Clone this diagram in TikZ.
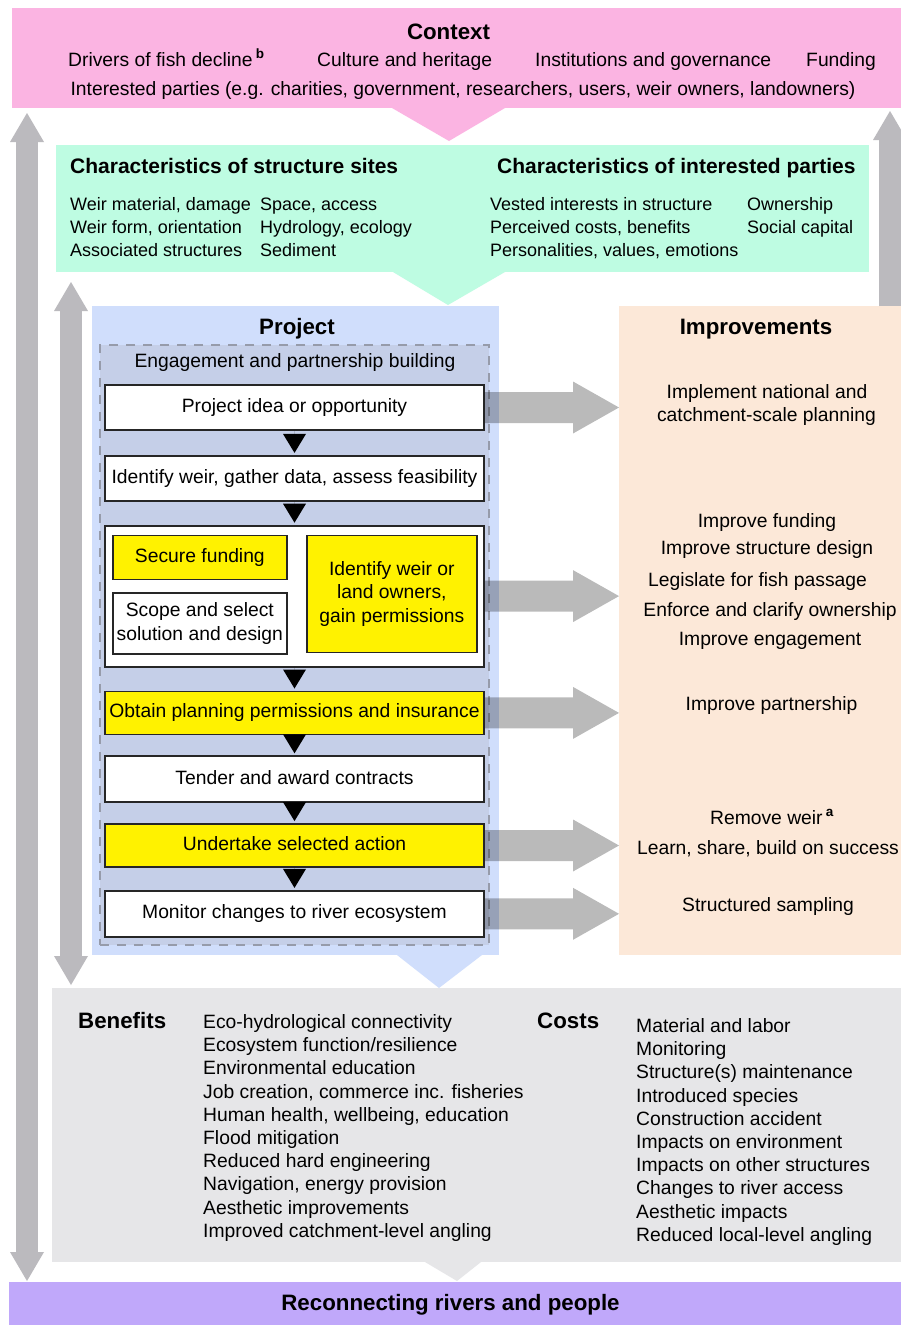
\documentclass[tikz,border=0pt]{standalone}
\usepackage{fontspec}
\setmainfont{Liberation Sans}
\usetikzlibrary{positioning,arrows.meta}

\definecolor{ctxpink}{RGB}{251,180,226}
\definecolor{charmint}{RGB}{190,252,226}
\definecolor{projblue}{RGB}{208,222,252}
\definecolor{engblue}{RGB}{197,207,232}
\definecolor{imppeach}{RGB}{252,232,216}
\definecolor{bcgray}{RGB}{230,230,232}
\definecolor{recpurple}{RGB}{192,168,250}
\definecolor{stepyellow}{RGB}{255,242,0}
\definecolor{arrowgray}{RGB}{187,186,190}
\definecolor{dashgray}{RGB}{150,155,170}

\newcommand{\bodyfont}{\fontsize{19.3}{23.3}\selectfont}
\newcommand{\listfont}{\fontsize{18}{22}\selectfont}
\newcommand{\headfont}{\fontsize{22.3}{26}\selectfont\bfseries}
\newcommand{\subheadfont}{\fontsize{21}{25}\selectfont\bfseries}

\begin{document}
\begin{tikzpicture}[x=1pt, y=-1pt,
    panel/.style={anchor=north west, inner sep=0pt, outer sep=0pt},
    head/.style={font=\headfont, text height=20pt, text depth=4pt, inner sep=0pt},
    subhead/.style={font=\subheadfont, text height=19pt, text depth=4pt, inner sep=0pt, anchor=west},
    txt/.style={font=\bodyfont, text height=18pt, text depth=4pt, inner sep=0pt},
    item/.style={font=\listfont, text height=17pt, text depth=4pt, inner sep=0pt, anchor=west},
    stepbox/.style={draw=black!85, line width=1.8pt, fill=white, minimum width=379pt, font=\bodyfont, text height=14pt, text depth=4pt, inner sep=2pt},
    yellowbox/.style={stepbox, fill=stepyellow},
    subbox/.style={draw=black!85, line width=1.5pt, fill=white, font=\bodyfont, align=center, inner sep=2pt, anchor=north west},
    steptip/.style={-{Triangle[width=23pt,length=19pt,line width=0pt]}, line width=.01pt, shorten >=2pt},
    bigtip/.tip={Triangle[width=34pt,length=29pt,line width=0pt]},
    bigarrow/.style={draw=arrowgray, line width=22pt},
    sidearrow/.style={draw=black, line width=31pt, -{Triangle[width=52pt,length=46pt,line width=0pt]}}
  ]
  \useasboundingbox (0,0) rectangle (901,1325);
  \fill[white] (0,0) rectangle (901,1325);

  % Panels
  \node[panel, fill=ctxpink, minimum width=889pt, minimum height=100pt] (ctx) at (12,8) {};
  \fill[ctxpink] (392,108) -- (505,108) -- (449,141) -- cycle;
  \node[panel, fill=charmint, minimum width=813pt, minimum height=127pt] (chr) at (56,145) {};
  \fill[charmint] (393,272) -- (505,272) -- (448,305) -- cycle;
  \node[panel, fill=projblue, minimum width=407pt, minimum height=649pt] (proj) at (92,306) {};
  \fill[projblue] (397,955) -- (482,955) -- (439,988) -- cycle;
  \node[panel, fill=imppeach, minimum width=282pt, minimum height=649pt] (imp) at (619,306) {};
  \node[panel, fill=bcgray, minimum width=849pt, minimum height=274pt] (bc) at (52,988) {};
  \fill[bcgray] (425,1262) -- (481,1262) -- (457,1281) -- cycle;
  \node[panel, fill=recpurple, minimum width=892pt, minimum height=43pt] (rec) at (9,1282) {};
  \node[panel, fill=engblue, draw=dashgray, line width=1.5pt, dash pattern=on 9pt off 8pt,
    minimum width=389pt, minimum height=600pt] (eng) at (100,345) {};

  % Feedback arrows
  \coordinate (lx) at (27,0);
  \coordinate (ilx) at (71,0);
  \coordinate (rx) at (890,0);
  \draw[bigarrow, bigtip-bigtip, shorten <=5pt, shorten >=1pt] (lx |- ctx.south) -- (lx |- rec.north);
  \draw[bigarrow, bigtip-bigtip, shorten <=10pt, shorten >=3pt] (ilx |- chr.south) -- (ilx |- bc.north);
  \draw[bigarrow, -bigtip, shorten >=3pt] (rx |- imp.north) -- (rx |- ctx.south);

  % Context
  \node[head] (ctxtitle) at (448.5,31) {Context};
  \node[txt, anchor=west] (drivers) at (68,59) {Drivers of fish decline\,\textsuperscript{\bfseries b}};
  \node[txt, anchor=west] (culture) at (317,59) {Culture and heritage};
  \node[txt, anchor=west] (inst) at (535,59) {Institutions and governance};
  \node[txt, anchor=west] (fund) at (806,59) {Funding};
  \node[txt] (parties) at (463,88) {Interested parties (e.g. charities, government, researchers, users, weir owners, landowners)};

  % Characteristics
  \node[subhead] (sites) at (70,166) {Characteristics of structure sites};
  \node[subhead] (partch) at (497,166) {Characteristics of interested parties};
  \foreach \t [count=\i from 0] in {{Weir material, damage}, {Weir form, orientation}, Associated structures}
    \node[item] (sa\i) at (70,204+23*\i) {\t};
  \foreach \t [count=\i from 0] in {{Space, access}, {Hydrology, ecology}, Sediment}
    \node[item] (sb\i) at (260,204+23*\i) {\t};
  \foreach \t [count=\i from 0] in {Vested interests in structure, {Perceived costs, benefits}, {Personalities, values, emotions}}
    \node[item] (pa\i) at (490,204+23*\i) {\t};
  \foreach \t [count=\i from 0] in {Ownership, Social capital}
    \node[item] (pb\i) at (747,204+23*\i) {\t};

  % Project
  \node[head] (projtitle) at (297,326) {Project};
  \node[txt] (engtitle) at (295,360) {Engagement and partnership building};
  \node[stepbox, minimum height=45pt] (s1) at (294.5,407.5) {Project idea or opportunity};
  \node[stepbox, minimum height=45pt, below=24pt of s1] (s2) {Identify weir, gather data, assess feasibility};
  \node[stepbox, minimum height=141pt, below=23pt of s2] (s3) {};
  \node[yellowbox, minimum height=43pt, below=23pt of s3] (s4) {Obtain planning permissions and insurance};
  \node[stepbox, minimum height=46pt, below=20pt of s4] (s5) {Tender and award contracts};
  \node[yellowbox, minimum height=43pt, below=20pt of s5] (s6) {Undertake selected action};
  \node[stepbox, minimum height=46pt, below=22pt of s6] (s7) {Monitor changes to river ecosystem};

  \node[subbox, fill=stepyellow, minimum width=174pt, minimum height=44pt] (sf) at ([shift={(8,10)}]s3.north west) {Secure funding};
  \node[subbox, minimum width=174pt, minimum height=61pt, below=12pt of sf.south west, anchor=north west] (sc) {Scope and select\\solution and design};
  \node[subbox, fill=stepyellow, minimum width=170pt, minimum height=117pt] (io) at ([shift={(202,10)}]s3.north west) {Identify weir or\\land owners,\\gain permissions};

  \draw[steptip] (s1) -- (s2);
  \draw[steptip] (s2) -- (s3);
  \draw[steptip] (s3) -- (s4);
  \draw[steptip] (s4) -- (s5);
  \draw[steptip] (s5) -- (s6);
  \draw[steptip] (s6) -- (s7);

  % Arrows to improvements
  \begin{scope}[transparency group, opacity=.27]
    \draw[sidearrow] (s1.east) -- (s1.east -| imp.west);
    \draw[sidearrow] (s3.east) -- (s3.east -| imp.west);
    \draw[sidearrow] (s4.east) -- (s4.east -| imp.west);
    \draw[sidearrow] (s6.east) -- (s6.east -| imp.west);
    \draw[sidearrow] (s7.east) -- (s7.east -| imp.west);
  \end{scope}

  % Improvements
  \node[head] (imptitle) at (756,326) {Improvements};
  \node[txt] (i1) at (767,391) {Implement national and};
  \node[txt] (i2) at (766.5,414) {catchment-scale planning};
  \node[txt] (i3) at (767,520.5) {Improve funding};
  \node[txt] (i4) at (767,547.5) {Improve structure design};
  \node[txt] (i5) at (757.5,579) {Legislate for fish passage};
  \node[txt] (i6) at (770,609) {Enforce and clarify ownership};
  \node[txt] (i7) at (770,638) {Improve engagement};
  \node[txt] (i8) at (771.5,703.5) {Improve partnership};
  \node[txt] (i9) at (772,817.5) {Remove weir\,\textsuperscript{\bfseries a}};
  \node[txt] (i10) at (768,847) {Learn, share, build on success};
  \node[txt] (i11) at (768,904.5) {Structured sampling};

  % Benefits and costs
  \node[head, anchor=west] (bentitle) at (78,1020) {Benefits};
  \node[head, anchor=west] (costtitle) at (537,1020) {Costs};
  \foreach \t [count=\i from 0] in {Eco-hydrological connectivity, Ecosystem function/resilience, Environmental education,
      {Job creation, commerce inc. fisheries}, {Human health, wellbeing, education}, Flood mitigation,
      Reduced hard engineering, {Navigation, energy provision}, Aesthetic improvements, Improved catchment-level angling}
    \node[txt, anchor=west] (ben\i) at (203,1021.5+23.2*\i) {\t};
  \foreach \t [count=\i from 0] in {Material and labor, Monitoring, Structure(s) maintenance, Introduced species,
      Construction accident, Impacts on environment, Impacts on other structures, Changes to river access,
      Aesthetic impacts, Reduced local-level angling}
    \node[txt, anchor=west] (cost\i) at (636,1025.5+23.2*\i) {\t};

  % Outcome
  \node[head] (rectitle) at (450.5,1302.5) {Reconnecting rivers and people};
\end{tikzpicture}
\end{document}
